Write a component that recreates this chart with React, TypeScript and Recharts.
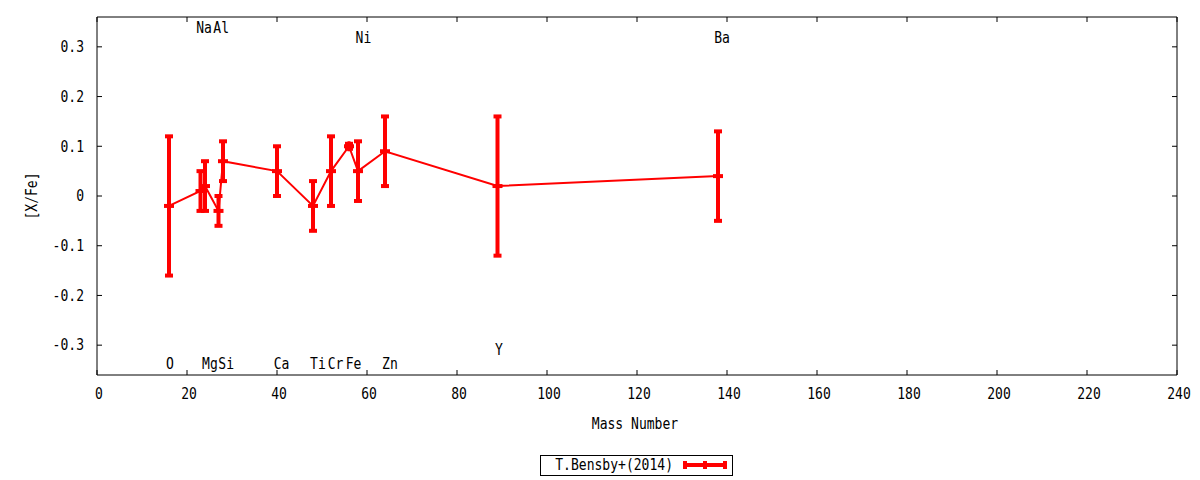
import React from 'react';
import { ComposedChart, Line, ErrorBar, XAxis, YAxis, Scatter } from 'recharts';

// ---- data ----
const elements = ['O', 'Na', 'Mg', 'Al', 'Si', 'Ca', 'Ti', 'Cr', 'Fe', 'Ni', 'Zn', 'Y', 'Ba'];
const massNumbers = [16, 23, 24, 27, 28, 40, 48, 52, 56, 58, 64, 89, 138];
const xFeValues = [-0.02, 0.01, 0.02, -0.03, 0.07, 0.05, -0.02, 0.05, 0.1, 0.05, 0.09, 0.02, 0.04];
const xFeErrors = [0.14, 0.04, 0.05, 0.03, 0.04, 0.05, 0.05, 0.07, 0.005, 0.06, 0.07, 0.14, 0.09];

const labelNames = ['O', 'Na', 'Mg', 'Al', 'Si', 'Ca', 'Ti', 'Cr', 'Fe', 'Ni', 'Zn', 'Y', 'Ba'];
const labelX = [16.2, 23.8, 25.1, 27.6, 28.7, 41.0, 49.1, 53.0, 57.0, 59.2, 65.1, 89.3, 138.9];
const labelY = [-0.338, 0.338, -0.338, 0.338, -0.338, -0.338, -0.338, -0.338, -0.338, 0.319, -0.338, -0.309, 0.319];

const xTicks = [0, 20, 40, 60, 80, 100, 120, 140, 160, 180, 200, 220, 240];
const yTicks = [-0.3, -0.2, -0.1, 0, 0.1, 0.2, 0.3];
const xDomain = [0, 240];
const yDomain = [-0.36, 0.36];

const seriesName = 'T.Bensby+(2014)';
const xTitle = 'Mass Number';
const yTitle = '[X/Fe]';

// ---- derived tables ----
const chartData = massNumbers.map((m, i) => ({ x: m, y: xFeValues[i], err: xFeErrors[i], el: elements[i] }));
const labelData = labelNames.map((n, i) => ({ x: labelX[i], y: labelY[i], name: n }));

// ---- styles ----
const FONT = "'DejaVu Sans Mono', 'Liberation Mono', monospace";
const FS = 15;
const SX = 0.87;
const RED = '#ff0000';
const TICK_LEN = 5;

function MonoText({ x, y, anchor = 'middle', children, rotate = 0 }: any) {
  // y is the visual vertical centre of capitals
  return (
    <g transform={`translate(${x},${y}) rotate(${rotate})`}>
      <text
        transform={`scale(${SX},1)`}
        x={0}
        y={5.3}
        textAnchor={anchor}
        fontFamily={FONT}
        fontSize={FS}
        fill="#000"
      >
        {children}
      </text>
    </g>
  );
}

const fmtY = (v: number) => (Math.abs(v) < 1e-9 ? '0' : v.toFixed(1));

function BottomTick(props: any) {
  const { x, y, payload } = props;
  return (
    <g>
      <line x1={x} y1={y} x2={x} y2={y - TICK_LEN} stroke="#000" strokeWidth={1} />
      <MonoText x={x + 2} y={y + 19}>{String(payload.value)}</MonoText>
    </g>
  );
}

function TopTick(props: any) {
  const { x, y } = props;
  return <line x1={x} y1={y} x2={x} y2={y + TICK_LEN} stroke="#000" strokeWidth={1} />;
}

function LeftTick(props: any) {
  const { x, y, payload } = props;
  return (
    <g>
      <line x1={x} y1={y} x2={x + TICK_LEN} y2={y} stroke="#000" strokeWidth={1} />
      <MonoText x={x - 13} y={y} anchor="end">
        {fmtY(payload.value)}
      </MonoText>
    </g>
  );
}

function RightTick(props: any) {
  const { x, y } = props;
  return <line x1={x} y1={y} x2={x - TICK_LEN} y2={y} stroke="#000" strokeWidth={1} />;
}

function PointMark(props: any) {
  const { cx, cy } = props;
  if (cx == null || cy == null) return null;
  return (
    <g>
      <line x1={cx - 5} y1={cy} x2={cx + 5} y2={cy} stroke={RED} strokeWidth={4} />
      <line x1={cx} y1={cy - 5} x2={cx} y2={cy + 5} stroke={RED} strokeWidth={3} />
    </g>
  );
}

function LabelMark(props: any) {
  const { cx, cy, payload } = props;
  if (cx == null || cy == null) return null;
  return <MonoText x={cx} y={cy}>{payload.name}</MonoText>;
}

export default function App() {
  return (
    <div style={{ position: 'absolute', left: 0, top: 0, width: 1200, height: 480, background: '#fff' }}>
      <ComposedChart
        width={1200}
        height={480}
        data={chartData}
        margin={{ top: 12, right: 18, bottom: 75, left: 37 }}
      >
        <XAxis
          xAxisId="bottom"
          dataKey="x"
          type="number"
          orientation="bottom"
          domain={xDomain}
          ticks={xTicks}
          allowDataOverflow
          height={30}
          tickLine={false}
          tickSize={0}
          tickMargin={0}
          axisLine={{ stroke: '#000', strokeWidth: 1 }}
          tick={<BottomTick />}
          interval={0}
        />
        <XAxis
          xAxisId="top"
          dataKey="x"
          type="number"
          orientation="top"
          domain={xDomain}
          ticks={xTicks}
          allowDataOverflow
          height={5}
          tickLine={false}
          tickSize={0}
          tickMargin={0}
          axisLine={{ stroke: '#000', strokeWidth: 1 }}
          tick={<TopTick />}
          interval={0}
        />
        <YAxis
          yAxisId="left"
          type="number"
          orientation="left"
          domain={yDomain}
          ticks={yTicks}
          allowDataOverflow
          width={60}
          tickLine={false}
          tickSize={0}
          tickMargin={0}
          axisLine={{ stroke: '#000', strokeWidth: 1 }}
          tick={<LeftTick />}
          interval={0}
        />
        <YAxis
          yAxisId="right"
          type="number"
          orientation="right"
          domain={yDomain}
          ticks={yTicks}
          allowDataOverflow
          width={5}
          tickLine={false}
          tickSize={0}
          tickMargin={0}
          axisLine={{ stroke: '#000', strokeWidth: 1 }}
          tick={<RightTick />}
          interval={0}
        />
        <Line
          xAxisId="bottom"
          yAxisId="left"
          dataKey="y"
          name={seriesName}
          stroke={RED}
          strokeWidth={2}
          dot={<PointMark />}
          activeDot={false}
          isAnimationActive={false}
        >
          <ErrorBar dataKey="err" direction="y" width={4} stroke={RED} strokeWidth={4} isAnimationActive={false} />
        </Line>
        <Scatter
          xAxisId="bottom"
          yAxisId="left"
          data={labelData}
          dataKey="y"
          shape={<LabelMark />}
          isAnimationActive={false}
        />
      </ComposedChart>
      {/* axis titles */}
      <svg width={1200} height={480} style={{ position: 'absolute', left: 0, top: 0, pointerEvents: 'none' }}>
        <MonoText x={635} y={424}>{xTitle}</MonoText>
        <MonoText x={32} y={196} rotate={-90}>{yTitle}</MonoText>
        {/* legend */}
        <rect x={540.5} y={455.5} width={192} height={20} fill="none" stroke="#000" strokeWidth={1} />
        <MonoText x={673} y={465} anchor="end">{seriesName}</MonoText>
        <line x1={683} y1={465} x2={727} y2={465} stroke={RED} strokeWidth={4} />
        <line x1={685} y1={461} x2={685} y2={469} stroke={RED} strokeWidth={4} />
        <line x1={725} y1={461} x2={725} y2={469} stroke={RED} strokeWidth={4} />
        <line x1={705} y1={461} x2={705} y2={469} stroke={RED} strokeWidth={4} />
      </svg>
    </div>
  );
}
